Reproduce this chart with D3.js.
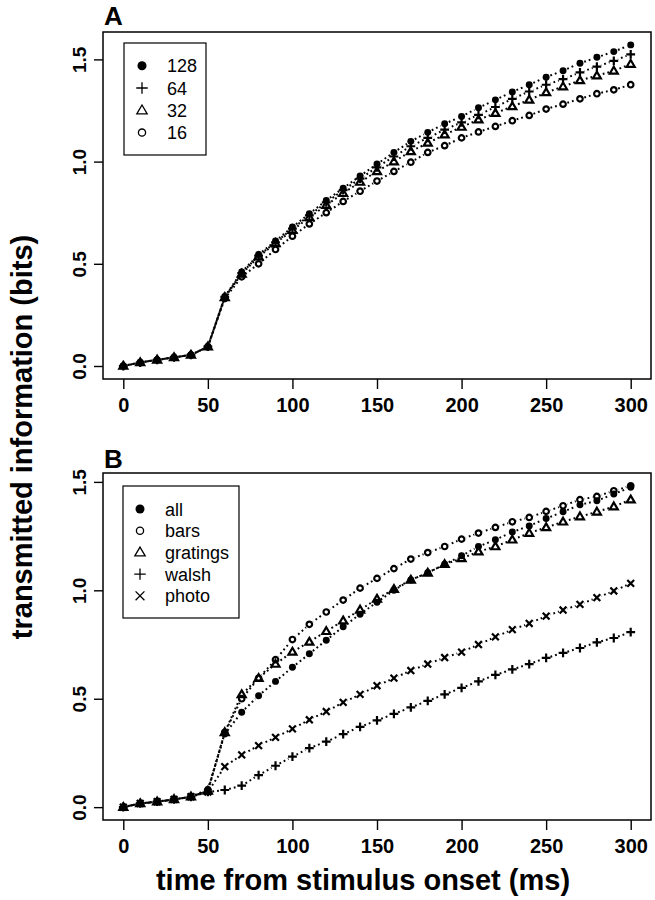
<!DOCTYPE html>
<html><head><meta charset="utf-8">
<script src="https://cdn.jsdelivr.net/npm/d3@7"></script>
<style>body{margin:0;background:#fff}</style>
</head><body>
<svg id="c" width="655" height="900"></svg>
<script>
// ---------- data ----------
const times = [0,10,20,30,40,50,60,70,80,90,100,110,120,130,140,150,160,170,180,190,200,210,220,230,240,250,260,270,280,290,300];
const xTicks = [0,50,100,150,200,250,300];
const yTicks = [0,0.5,1.0,1.5];

const aLabels = ["128","64","32","16"];
const a128 = [0,0.017,0.03,0.042,0.054,0.095,0.34,0.46,0.545,0.612,0.68,0.745,0.81,0.87,0.93,0.988,1.045,1.099,1.143,1.185,1.221,1.263,1.302,1.341,1.376,1.413,1.445,1.481,1.51,1.538,1.571];
const a64  = [0,0.017,0.03,0.042,0.054,0.095,0.338,0.455,0.54,0.605,0.672,0.737,0.80,0.86,0.917,0.972,1.025,1.075,1.116,1.156,1.192,1.229,1.267,1.307,1.343,1.376,1.403,1.436,1.465,1.493,1.525];
const a32  = [0,0.017,0.03,0.042,0.054,0.094,0.336,0.45,0.535,0.60,0.665,0.727,0.787,0.845,0.90,0.952,1.0,1.05,1.091,1.132,1.169,1.205,1.237,1.27,1.302,1.338,1.367,1.397,1.42,1.444,1.477];
const a16  = [0,0.017,0.03,0.042,0.054,0.094,0.33,0.436,0.50,0.57,0.635,0.695,0.75,0.805,0.855,0.905,0.952,0.997,1.045,1.078,1.116,1.145,1.172,1.2,1.226,1.257,1.281,1.307,1.332,1.351,1.376];

const bLabels = ["all","bars","gratings","walsh","photo"];
const bAll   = [0,0.017,0.025,0.036,0.048,0.082,0.337,0.438,0.514,0.58,0.645,0.707,0.77,0.832,0.89,0.945,1.0,1.048,1.081,1.12,1.159,1.202,1.233,1.269,1.297,1.331,1.362,1.394,1.413,1.444,1.475];
const bBars  = [0,0.017,0.025,0.036,0.048,0.075,0.345,0.50,0.595,0.68,0.773,0.843,0.90,0.955,1.01,1.055,1.10,1.144,1.174,1.202,1.236,1.264,1.29,1.316,1.336,1.364,1.39,1.418,1.433,1.459,1.482];
const bGrat  = [0,0.017,0.025,0.036,0.048,0.075,0.345,0.52,0.595,0.66,0.716,0.762,0.811,0.86,0.91,0.96,1.005,1.048,1.08,1.12,1.147,1.178,1.202,1.233,1.264,1.29,1.316,1.34,1.362,1.386,1.418];
const bWalsh = [0,0.017,0.025,0.036,0.048,0.07,0.079,0.099,0.148,0.191,0.233,0.272,0.302,0.337,0.37,0.40,0.43,0.46,0.49,0.52,0.55,0.58,0.61,0.635,0.66,0.688,0.711,0.734,0.76,0.78,0.807];
const bPhoto = [0,0.017,0.025,0.036,0.048,0.07,0.187,0.241,0.284,0.322,0.361,0.403,0.441,0.483,0.52,0.56,0.595,0.63,0.66,0.69,0.715,0.75,0.785,0.819,0.847,0.881,0.909,0.935,0.966,0.997,1.032];

const xLabel = "time from stimulus onset (ms)";
const yLabel = "transmitted information (bits)";

// ---------- drawing ----------
const svg = d3.select("#c");
const FONT = "'Liberation Sans', Arial, Helvetica, sans-serif";
const L = 103, R = 651;
const x = d3.scaleLinear().domain([-12, 312]).range([L, R]);

function markerPath(type, s) {
  switch (type) {
    case "dot":    return d3.symbol(d3.symbolCircle, 38 * s * s)();
    case "circle": return d3.symbol(d3.symbolCircle, 24 * s * s)();
    case "plus":   return `M${-4.4*s},0H${4.4*s}M0,${-4.4*s}V${4.4*s}`;
    case "cross":  return `M${-3.4*s},${-3.4*s}L${3.4*s},${3.4*s}M${-3.4*s},${3.4*s}L${3.4*s},${-3.4*s}`;
    case "tri": {
      const h = 6.8 * s, w = 4.0 * s;
      return `M0,${-h*0.6}L${w},${h*0.4}L${-w},${h*0.4}Z`;
    }
  }
}
function styleMarker(sel, type, sw) {
  if (type === "dot") sel.attr("fill", "#000").attr("stroke", "none");
  else sel.attr("fill", "none").attr("stroke", "#000").attr("stroke-width", sw);
}

function panel(cfg) {
  const y = d3.scaleLinear().domain(cfg.ydom).range([cfg.bottom, cfg.top]);
  const g = svg.append("g");

  cfg.series.forEach((s, si) => {
    const gap = 4.5;
    const segs = [];
    for (let i = 0; i < times.length - 1; i++) {
      const x1 = x(times[i]), y1 = y(s.values[i]);
      const x2 = x(times[i+1]), y2 = y(s.values[i+1]);
      const dx = x2 - x1, dy = y2 - y1, len = Math.hypot(dx, dy);
      if (len > 2 * gap + 1) {
        const ux = dx / len, uy = dy / len;
        segs.push([x1 + ux*gap, y1 + uy*gap, x2 - ux*gap, y2 - uy*gap]);
      }
    }
    g.append("g").selectAll("line").data(segs).join("line")
      .attr("x1", d => d[0]).attr("y1", d => d[1])
      .attr("x2", d => d[2]).attr("y2", d => d[3])
      .attr("stroke", "#000").attr("stroke-width", 2)
      .attr("stroke-dasharray", "1.8,3")
      .attr("stroke-dashoffset", si * 1.6);
  });
  cfg.series.forEach(s => {
    const pts = g.append("g").selectAll("path").data(times.map((t, i) => [t, s.values[i]])).join("path")
      .attr("transform", d => `translate(${x(d[0])},${y(d[1])})`)
      .attr("d", markerPath(s.shape, 1));
    styleMarker(pts, s.shape, 2.2);
  });

  g.append("rect").attr("x", L).attr("y", cfg.top).attr("width", R - L).attr("height", cfg.bottom - cfg.top)
    .attr("fill", "none").attr("stroke", "#000").attr("stroke-width", 1.5);

  const xa = g.append("g").attr("transform", `translate(0,${cfg.bottom})`)
    .call(d3.axisBottom(x).tickValues(xTicks).tickSize(10).tickSizeOuter(0).tickFormat(d3.format("d")));
  xa.select(".domain").remove();
  xa.selectAll("line").attr("stroke-width", 1.4);
  xa.selectAll("text").attr("font-family", FONT).attr("font-weight", "bold").attr("font-size", 20)
    .attr("dy", null).attr("y", cfg.xLabBase - cfg.bottom);

  const ya = g.append("g").attr("transform", `translate(${L},0)`)
    .call(d3.axisLeft(y).tickValues(yTicks).tickSize(9).tickSizeOuter(0).tickFormat(d3.format(".1f")));
  ya.select(".domain").remove();
  ya.selectAll("line").attr("stroke-width", 1.4);
  ya.selectAll("text").attr("font-family", FONT).attr("font-weight", "bold").attr("font-size", 19)
    .attr("x", null).attr("dy", null).attr("text-anchor", "middle")
    .attr("transform", "translate(-17,0) rotate(-90)");

  g.append("text").attr("x", 104).attr("y", cfg.letterBase).text(cfg.letter)
    .attr("font-family", FONT).attr("font-weight", "bold").attr("font-size", 26);

  const lg = cfg.legend;
  g.append("rect").attr("x", lg.x).attr("y", lg.y).attr("width", lg.w).attr("height", lg.h)
    .attr("fill", "#fff").attr("stroke", "#000").attr("stroke-width", 1.2);
  cfg.series.forEach((s, i) => {
    const ry = lg.row0 + i * lg.step;
    const p = g.append("path").attr("transform", `translate(${lg.sx},${ry})`).attr("d", markerPath(s.shape, 1.3));
    styleMarker(p, s.shape, 1.3);
    g.append("text").attr("x", lg.tx).attr("y", ry + 6.5).text(s.label)
      .attr("font-family", FONT).attr("font-size", 18);
  });
}

panel({
  top: 32, bottom: 379, ydom: [-0.0636, 1.634], letter: "A", letterBase: 25, xLabBase: 412,
  series: [
    {label: aLabels[0], values: a128, shape: "dot"},
    {label: aLabels[1], values: a64,  shape: "plus"},
    {label: aLabels[2], values: a32,  shape: "tri"},
    {label: aLabels[3], values: a16,  shape: "circle"}
  ],
  legend: {x: 124, y: 43, w: 82, h: 112, row0: 65.7, step: 22.3, sx: 142, tx: 167}
});

panel({
  top: 473, bottom: 820, ydom: [-0.0593, 1.541], letter: "B", letterBase: 468, xLabBase: 853,
  series: [
    {label: bLabels[0], values: bAll,   shape: "dot"},
    {label: bLabels[1], values: bBars,  shape: "circle"},
    {label: bLabels[2], values: bGrat,  shape: "tri"},
    {label: bLabels[3], values: bWalsh, shape: "plus"},
    {label: bLabels[4], values: bPhoto, shape: "cross"}
  ],
  legend: {x: 123, y: 486, w: 116, h: 132, row0: 509, step: 21.7, sx: 140, tx: 165}
});

svg.append("text").attr("x", 363).attr("y", 890).attr("text-anchor", "middle").text(xLabel)
  .attr("font-family", FONT).attr("font-weight", "bold").attr("font-size", 29);
svg.append("text").attr("transform", "translate(32,437) rotate(-90)").attr("text-anchor", "middle").text(yLabel)
  .attr("font-family", FONT).attr("font-weight", "bold").attr("font-size", 29);
</script>
</body></html>
